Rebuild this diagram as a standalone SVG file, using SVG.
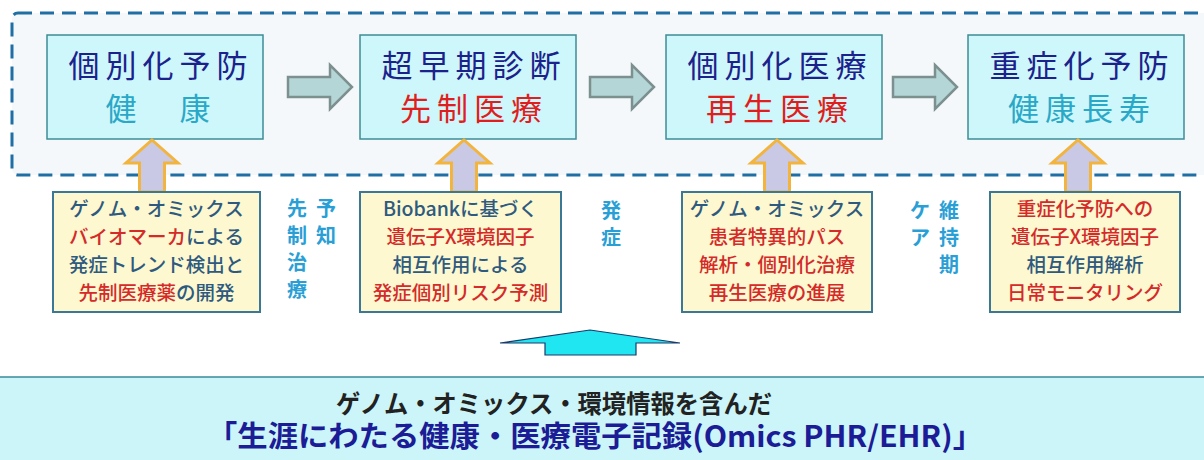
<svg xmlns="http://www.w3.org/2000/svg" width="1204" height="460" viewBox="0 0 1204 460">
<style>
.jp{font-family:"Noto Sans CJK JP","Noto Sans",sans-serif}
.stage{fill:#cdf7fa;stroke:#3c8c96;stroke-width:1.5}
.t1{font-size:31px;fill:#1c228c;letter-spacing:6px}
.t2{font-size:31px;letter-spacing:6px}
.cyan{fill:#2aa8c8}
.red{fill:#e01e1e}
.note{fill:#fdf8cf;stroke:#3a7896;stroke-width:2}
.nt{font-size:19.5px;font-weight:500;fill:#2e5a80}
.nr{fill:#d42a2a}
.vt{font-size:20px;font-weight:bold;fill:#2a9fd6}
.garrow{fill:#b5d6d6;stroke:#7d9090;stroke-width:2.5}
.oarrow{fill:#c9c9e6;stroke:#f2b43c;stroke-width:3}
</style>
<rect width="1204" height="460" fill="#ffffff"/>
<g id="frame">
<rect x="12" y="13" width="1210" height="162" rx="6" fill="#f5f8fb" stroke="#1f6fa5" stroke-width="3" stroke-dasharray="14 8"/>
</g>
<g id="stage1">
<rect class="stage" x="47" y="35" width="216" height="104"/>
<text class="jp t1" x="161" y="77" text-anchor="middle">個別化予防</text>
<text class="jp t2 cyan" x="161" y="120" text-anchor="middle">健　康</text>
</g>
<g id="stage2">
<rect class="stage" x="360" y="35" width="216" height="104"/>
<text class="jp t1" x="474" y="77" text-anchor="middle">超早期診断</text>
<text class="jp t2 red" x="474" y="120" text-anchor="middle">先制医療</text>
</g>
<g id="stage3">
<rect class="stage" x="666" y="35" width="216" height="104"/>
<text class="jp t1" x="780" y="77" text-anchor="middle">個別化医療</text>
<text class="jp t2 red" x="780" y="120" text-anchor="middle">再生医療</text>
</g>
<g id="stage4">
<rect class="stage" x="968" y="35" width="216" height="104"/>
<text class="jp t1" x="1082" y="77" text-anchor="middle">重症化予防</text>
<text class="jp t2 cyan" x="1082" y="120" text-anchor="middle">健康長寿</text>
</g>
<g id="connectors">
<polygon class="garrow" points="288,77 330,77 330,65 352,87 330,109 330,97 288,97"/>
<polygon class="garrow" points="590,77 632,77 632,65 654,87 632,109 632,97 590,97"/>
<polygon class="garrow" points="893,77 935,77 935,65 957,87 935,109 935,97 893,97"/>
<polygon class="oarrow" points="152,140 178,163 164.5,163 164.5,192 139.5,192 139.5,163 126,163"/>
<polygon class="oarrow" points="464,140 490,163 476.5,163 476.5,192 451.5,192 451.5,163 438,163"/>
<polygon class="oarrow" points="777,140 803,163 789.5,163 789.5,192 764.5,192 764.5,163 751,163"/>
<polygon class="oarrow" points="1078,140 1104,163 1090.5,163 1090.5,192 1065.5,192 1065.5,163 1052,163"/>
<polygon points="500,343 590,330 680,343 636,343 636,355 545,355 545,343" fill="#20e6f2" stroke="#1a3a6a" stroke-width="1.2"/>
</g>
<g id="note1">
<rect class="note" x="53" y="192" width="207" height="120"/>
<text class="jp nt" x="156.5" y="216" text-anchor="middle">ゲノム・オミックス</text>
<text class="jp nt" x="156.5" y="244" text-anchor="middle"><tspan class="nr">バイオマーカ</tspan>による</text>
<text class="jp nt" x="156.5" y="272" text-anchor="middle">発症トレンド検出と</text>
<text class="jp nt" x="156.5" y="300" text-anchor="middle"><tspan class="nr">先制医療薬</tspan>の開発</text>
</g>
<g id="note2">
<rect class="note" x="360" y="192" width="201" height="120"/>
<text class="jp nt" x="460.5" y="216" text-anchor="middle">Biobankに基づく</text>
<text class="jp nt nr" x="460.5" y="244" text-anchor="middle" font-weight="bold">遺伝子X環境因子</text>
<text class="jp nt" x="460.5" y="272" text-anchor="middle">相互作用による</text>
<text class="jp nt nr" x="460.5" y="300" text-anchor="middle" font-weight="bold">発症個別リスク予測</text>
</g>
<g id="note3">
<rect class="note" x="682" y="192" width="190" height="120"/>
<text class="jp nt" x="777" y="216" text-anchor="middle">ゲノム・オミックス</text>
<text class="jp nt nr" x="777" y="244" text-anchor="middle">患者特異的パス</text>
<text class="jp nt nr" x="777" y="272" text-anchor="middle">解析・個別化治療</text>
<text class="jp nt nr" x="777" y="300" text-anchor="middle">再生医療の進展</text>
</g>
<g id="note4">
<rect class="note" x="990" y="192" width="190" height="120"/>
<text class="jp nt nr" x="1085" y="216" text-anchor="middle">重症化予防への</text>
<text class="jp nt nr" x="1085" y="244" text-anchor="middle">遺伝子X環境因子</text>
<text class="jp nt" x="1085" y="272" text-anchor="middle">相互作用解析</text>
<text class="jp nt nr" x="1085" y="300" text-anchor="middle">日常モニタリング</text>
</g>
<g id="phase-labels">
<text class="jp vt" x="297" y="216" text-anchor="middle">先</text>
<text class="jp vt" x="297" y="243" text-anchor="middle">制</text>
<text class="jp vt" x="297" y="270" text-anchor="middle">治</text>
<text class="jp vt" x="297" y="297" text-anchor="middle">療</text>
<text class="jp vt" x="326" y="216" text-anchor="middle">予</text>
<text class="jp vt" x="326" y="243" text-anchor="middle">知</text>
<text class="jp vt" x="611" y="218" text-anchor="middle">発</text>
<text class="jp vt" x="611" y="245" text-anchor="middle">症</text>
<text class="jp vt" x="920" y="218" text-anchor="middle">ケ</text>
<text class="jp vt" x="920" y="245" text-anchor="middle">ア</text>
<text class="jp vt" x="949" y="218" text-anchor="middle">維</text>
<text class="jp vt" x="949" y="245" text-anchor="middle">持</text>
<text class="jp vt" x="949" y="272" text-anchor="middle">期</text>
</g>
<g id="record">
<rect x="-2" y="377" width="1208" height="90" fill="#cbf5f9" stroke="#3a8a9a" stroke-width="1.5"/>
<text class="jp" x="336" y="413" font-size="25" font-weight="bold" fill="#222222" textLength="436" lengthAdjust="spacingAndGlyphs">ゲノム・オミックス・環境情報を含んだ</text>
<text class="jp" x="207" y="447" font-size="29" font-weight="bold" fill="#1c1c96" textLength="776" lengthAdjust="spacingAndGlyphs">「生涯にわたる健康・医療電子記録(Omics PHR/EHR)」</text>
</g>
</svg>
